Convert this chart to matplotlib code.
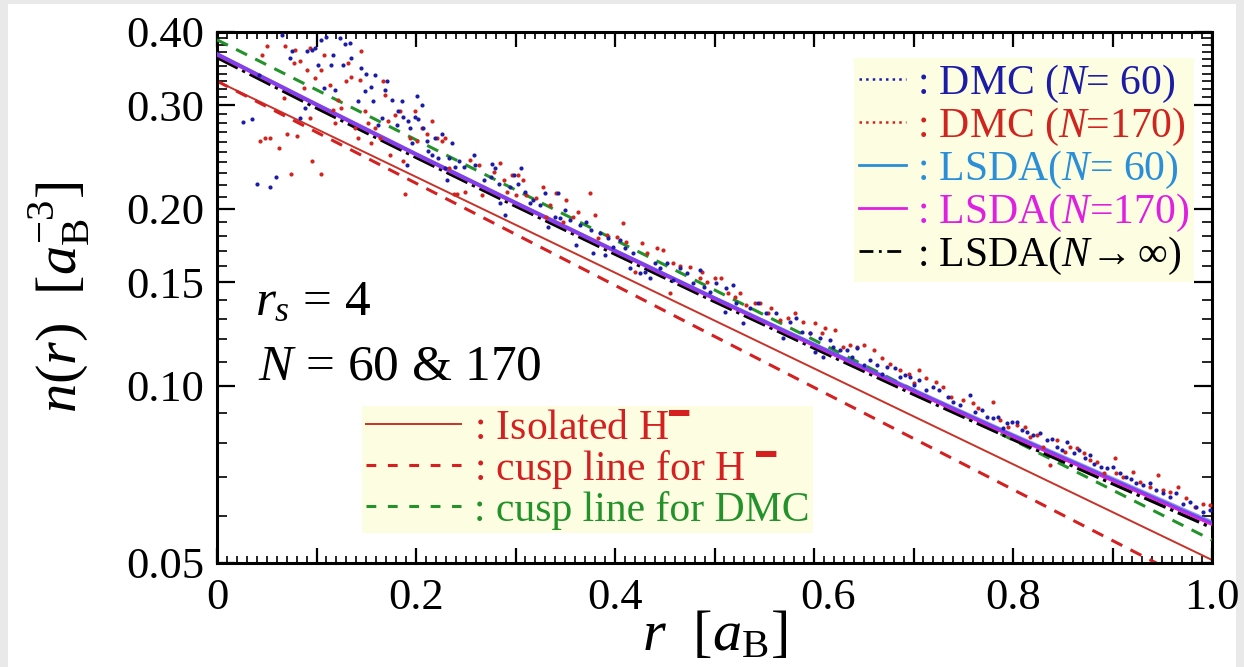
import numpy as np
import matplotlib
matplotlib.use('Agg')
import matplotlib.pyplot as plt
import matplotlib.transforms as mtransforms
from matplotlib.lines import Line2D
from matplotlib.patches import Rectangle
from matplotlib.ticker import FixedLocator, FixedFormatter, NullFormatter

plt.rcParams['font.family'] = ['Liberation Serif', 'DejaVu Serif']
plt.rcParams['mathtext.fontset'] = 'custom'
plt.rcParams['mathtext.rm'] = 'Liberation Serif'
plt.rcParams['mathtext.it'] = 'Liberation Serif:italic'
plt.rcParams['mathtext.bf'] = 'Liberation Serif:bold'

# ---- data ----
r_lsda = [0.0, 0.1, 0.2, 0.3, 0.4, 0.5, 0.6, 0.7, 0.8, 0.9, 1.0]
n_lsda_60 = [0.3670, 0.3012, 0.2480, 0.2050, 0.1699, 0.1412, 0.1178, 0.0985, 0.0826, 0.0696, 0.0587]
n_lsda_170 = [0.3665, 0.3010, 0.2478, 0.2048, 0.1697, 0.1409, 0.1174, 0.0981, 0.0822, 0.0692, 0.0583]
n_lsda_inf = [0.3620, 0.2970, 0.2448, 0.2023, 0.1676, 0.1392, 0.1160, 0.0968, 0.0811, 0.0682, 0.0574]

r_ends = [0.0, 1.0]
n_isolated = [0.330, 0.0506]
n_cusp_h = [0.330, 0.0447]
n_cusp_dmc = [0.388, 0.0547]

r_dmc60 = [
    .026, .035, .040, .042, .053, .059, .065, .073, .075, .083, .088, .090, .095, .098,
    .102, .105, .108, .110, .115, .117, .119, .124, .127, .129, .134, .135, .142, .145,
    .149, .150, .155, .157, .159, .162, .166, .169, .171, .176, .181, .182, .186, .187,
    .191, .192, .194, .196, .199, .201, .202, .206, .207, .211, .212, .216, .219, .222,
    .226, .229, .231, .233, .236, .239, .243,
    .248, .258, .259, .268, .275, .276, .279, .283, .284, .289, .294, .298, .303, .306,
    .310, .315, .318, .325, .330, .333, .340, .343, .345, .350, .355, .361, .365, .371,
    .376, .378, .385, .390, .393, .398, .405, .410, .415, .418, .425, .430, .435, .440,
    .445, .452, .458, .465, .472, .478, .485,
    .489, .495, .502, .511, .512, .519, .522, .529, .536, .544, .552, .562, .569, .576,
    .582, .588, .596, .601, .606, .609, .616, .619, .626, .633, .638, .643, .650, .656,
    .663, .668, .673, .681, .686, .691, .696, .701, .706, .713, .720, .726, .735,
    .740, .747, .757, .762, .769, .774, .780, .785, .790, .794, .799, .804, .809, .814,
    .820, .827, .834, .839, .844, .849, .854, .861, .866, .872, .877, .881, .888, .894,
    .901, .908, .914, .919, .924, .931, .938, .944, .951, .958, .964, .971, .978, .984,
    .991, .998]
n_dmc60 = [
    .281, .285, .221, .338, .218, .227, .396, .361, .372, .286, .297, .371, .373, .376,
    .352, .388, .321, .393, .352, .366, .319, .391, .352, .381, .383, .361, .305, .347,
    .317, .340, .323, .305, .338, .278, .286, .319, .330, .307, .278, .293, .305, .287,
    .238, .282, .275, .259, .287, .311, .284, .301, .275, .261, .251, .247, .264, .244,
    .268, .235, .224, .244, .259, .236, .241,
    .236, .247, .2377, .224, .227, .239, .2345, .221, .2045, .1953, .218, .2285, .221, .2345,
    .214, .2045, .207, .2032, .2127, .1866, .194, .2127, .1929, .1992, .1916, .1737, .1879, .1903,
    .1842, .1681, .1818, .1670, .1783, .1726, .1771, .1714, .1585, .1681, .1554, .1565, .1524, .1617,
    .1585, .1617, .1514, .1585, .1554, .1495, .1575,
    .1475, .1447, .1495, .1338, .1466, .1485, .1382, .1278, .1355, .1382, .1329, .1329, .1205, .1286,
    .1303, .1237, .1229, .1144, .1205, .1121, .1197, .1166, .1151, .1151, .1121, .1159, .1086, .1107,
    .1086, .1050, .1078, .1071, .1037, .1044, .1037, .1004, .1023, .0984, .0997, .0984, .0959,
    .0940, .0928, .0965, .0904, .0910, .0887, .0881, .0887, .0847, .0864, .0869, .0869, .0842, .0836,
    .0825, .0831, .0809, .0814, .0788, .0778, .0804, .0768, .0778, .0753, .0763, .0738, .0729, .0724,
    .0729, .0710, .0701, .0696, .0683, .0678, .0683, .0665, .0657, .0648, .0657, .0631, .0636, .0623,
    .0611, .0615]

r_dmc170 = [
    .043, .045, .048, .050, .053, .062, .067, .068, .070, .074, .077, .078, .080, .083,
    .087, .090, .093, .093, .095, .098, .105, .105, .108, .114, .117, .119, .122, .125,
    .130, .132, .135, .139, .142, .144, .145, .149, .152, .155, .159, .164, .167, .169,
    .172, .174, .179, .184, .187, .189, .194, .199, .201, .206, .211, .216, .221, .226,
    .229, .233, .238, .241,
    .249, .254, .263, .266, .278, .284, .288, .291, .296, .300, .303, .308, .311, .321,
    .328, .331, .335, .341, .348, .351, .358, .363, .375, .380, .383, .392, .402, .408,
    .411, .420, .427, .432, .442, .448, .455, .458, .465, .475, .485,
    .487, .492, .500, .507, .514, .521, .526, .532, .541, .546, .554, .557, .566, .574,
    .581, .589, .596, .601, .608, .611, .621, .629, .636, .643, .650, .660, .668, .676,
    .686, .695, .700, .706, .713, .723, .730,
    .738, .750, .760, .765, .780, .787, .795, .804, .812, .817, .824, .830, .837, .844,
    .852, .857, .864, .871, .877, .884, .891, .903, .904, .911, .921, .928, .938, .946,
    .951, .958, .966, .974, .983, .991, .998]
n_dmc170 = [
    .261, .366, .264, .378, .264, .254, .309, .378, .268, .229, .354, .373, .266, .357,
    .321, .345, .286, .375, .241, .334, .229, .345, .366, .325, .295, .280, .307, .297,
    .330, .354, .336, .275, .264, .332, .371, .293, .280, .259, .275, .264, .330, .313,
    .282, .247, .289, .293, .241, .212, .264, .293, .261, .275, .268, .282, .264, .261,
    .264, .235, .212, .212,
    .214, .2423, .2377, .2113, .2315, .2392, .2241, .2140, .2285, .2113, .2285, .2241, .2113, .2085,
    .2183, .1941, .2032, .2127, .1903, .2072, .1941, .1979, .2127, .1953, .1783, .1806, .1794, .1891,
    .1760, .1565, .1748, .1681, .1714, .1703, .1437, .1617, .1601, .1596, .1524,
    .1565, .1504, .1524, .1524, .1437, .1418, .1437, .1373, .1382, .1382, .1329, .1355, .1295, .1303,
    .1329, .1286, .1229, .1278, .1229, .1253, .1245, .1166, .1174, .1166, .1174, .1151, .1114, .1092,
    .1064, .1050, .1010, .1064, .1030, .1017, .0997,
    .0959, .0946, .0934, .0916, .0940, .0875, .0853, .0858, .0853, .0820, .0825, .0788, .0734, .0809,
    .0773, .0788, .0783, .0768, .0748, .0743, .0710, .0753, .0710, .0701, .0715, .0687, .0674, .0705,
    .0665, .0661, .0674, .0644, .0623, .0631, .0627]

y_major = [0.05, 0.10, 0.15, 0.20, 0.30, 0.40]
y_major_labels = ['0.05', '0.10', '0.15', '0.20', '0.30', '0.40']
x_major_labels = ['0', '', '0.2', '', '0.4', '', '0.6', '', '0.8', '', '1.0']

# ---- colours ----
C_DMC60 = '#1c1ca6'
C_DMC170 = '#d0241e'
C_L60 = '#2b8fd8'
C_L170 = '#e020e0'
C_RED = '#d42020'
C_ISO = '#c83228'
C_GREEN = '#23922a'
LEG_BG = '#fdfde1'
FS_LEG = 30

fig = plt.figure(figsize=(12.44, 6.67), dpi=100)
fig.patch.set_facecolor('#e9e9e9')
fig.patches.append(Rectangle((8 / 1244, 0), 1228 / 1244, 663 / 667, transform=fig.transFigure,
                             facecolor='white', edgecolor='none', zorder=-10))
ax = fig.add_axes([217 / 1244, 104 / 667, 995 / 1244, 531 / 667])
ax.set_facecolor('white')

# cusp / isolated lines
ax.plot(r_ends, n_isolated, color=C_ISO, lw=1.4, zorder=2)
ax.plot(r_ends, n_cusp_h, color=C_RED, lw=2.2, dashes=(4, 3), zorder=2)
ax.plot(r_ends, n_cusp_dmc, color=C_GREEN, lw=2.2, dashes=(4, 3), zorder=3)

# LSDA
ax.plot(r_lsda, n_lsda_inf, color='black', lw=2.4, dashes=(7, 1.5, 1, 1.5), zorder=4)
ax.plot(r_lsda, n_lsda_170, color=C_L170, lw=3.0, zorder=5)
ax.plot(r_lsda, n_lsda_60, color='#3a5cf0', lw=2.6, alpha=0.6, zorder=6)

# DMC
ax.plot(r_dmc170, n_dmc170, ls='none', marker='o', ms=3.0, mew=0, color=C_DMC170, zorder=7)
ax.plot(r_dmc60, n_dmc60, ls='none', marker='o', ms=3.0, mew=0, color=C_DMC60, zorder=7)

ax.set_yscale('log')
ax.set_xlim(0, 1.0)
ax.set_ylim(0.05, 0.40)

ax.yaxis.set_major_locator(FixedLocator(y_major))
ax.yaxis.set_major_formatter(FixedFormatter(y_major_labels))
y_minor = [round(0.01 * k, 2) for k in range(6, 40) if round(0.01 * k, 2) not in y_major]
ax.yaxis.set_minor_locator(FixedLocator(y_minor))
ax.yaxis.set_minor_formatter(NullFormatter())

x_major = [round(0.1 * k, 1) for k in range(11)]
ax.xaxis.set_major_locator(FixedLocator(x_major))
ax.xaxis.set_major_formatter(FixedFormatter(x_major_labels))
ax.xaxis.set_minor_locator(FixedLocator([round(0.01 * k, 2) for k in range(101)]))

ax.tick_params(which='both', direction='in', top=True, right=True, labelsize=32)
ax.tick_params(axis='y', which='major', length=13, width=1.6, pad=9)
ax.tick_params(axis='x', which='major', length=11, width=1.6, pad=11)
ax.tick_params(axis='y', which='minor', length=7, width=1.2)
ax.tick_params(axis='x', which='minor', length=5, width=1.2)
for s in ax.spines.values():
    s.set_linewidth(2.2)

# the "0.6" label sits a little to the right of its tick in the original
lab06 = ax.get_xticklabels()[6]
lab06.set_transform(lab06.get_transform() + mtransforms.ScaledTranslation(14 / 100, 0, fig.dpi_scale_trans))

ax.set_ylabel(r'$n(r)\ \ [a_{\rm B}^{-3}]$', fontsize=42)
ax.yaxis.set_label_coords(-0.126, 0.5)
ax.set_xlabel(r'$r\ \ [a_{\rm B}]$', fontsize=42)
ax.xaxis.set_label_coords(0.5, -0.088)

ax.text(0.038, 0.49, r'$r_s$ = 4', transform=ax.transAxes, fontsize=37, ha='left', va='center')
ax.text(0.041, 0.369, r'$N$ = 60 & 170', transform=ax.transAxes, fontsize=37, ha='left', va='center')

# legends
h1 = [Line2D([], [], color=C_DMC60, ls=':', lw=1.8),
      Line2D([], [], color=C_DMC170, ls=':', lw=1.8),
      Line2D([], [], color=C_L60, lw=2.0),
      Line2D([], [], color=C_L170, lw=2.0),
      Line2D([], [], color='black', lw=2.0, dashes=(5, 2, 1, 2))]
l1 = [': DMC ($N$= 60)', ': DMC ($N$=170)', ': LSDA($N$= 60)', ': LSDA($N$=170)',
      r': LSDA($N\!\rightarrow\infty$)']
leg1 = ax.legend(h1, l1, loc='upper right', bbox_to_anchor=(0.982, 0.951), borderaxespad=0,
                 fontsize=FS_LEG, handlelength=1.15, handletextpad=0.25, labelspacing=0.02,
                 borderpad=0.12, frameon=True, fancybox=False, framealpha=1,
                 facecolor=LEG_BG, edgecolor='none')
for t, c in zip(leg1.get_texts(), [C_DMC60, C_DMC170, C_L60, C_L170, 'black']):
    t.set_color(c)
ax.add_artist(leg1)

h2 = [Line2D([], [], color=C_ISO, lw=1.4),
      Line2D([], [], color=C_RED, lw=2.2, dashes=(3.2, 3.8)),
      Line2D([], [], color=C_GREEN, lw=2.2, dashes=(3.2, 3.8))]
l2 = [': Isolated H$^{{}^{\u25ac}}$', ': cusp line for H $^{{}^{\u25ac}}$', ': cusp line for DMC']
leg2 = ax.legend(h2, l2, loc='lower left', bbox_to_anchor=(0.146, 0.0565), borderaxespad=0,
                 fontsize=FS_LEG, handlelength=2.3, handletextpad=0.3, labelspacing=0.0,
                 borderpad=0.08, frameon=True, fancybox=False, framealpha=1,
                 facecolor=LEG_BG, edgecolor='none')
for t, c in zip(leg2.get_texts(), [C_RED, C_RED, C_GREEN]):
    t.set_color(c)

fig.savefig('out.png', dpi=100)
